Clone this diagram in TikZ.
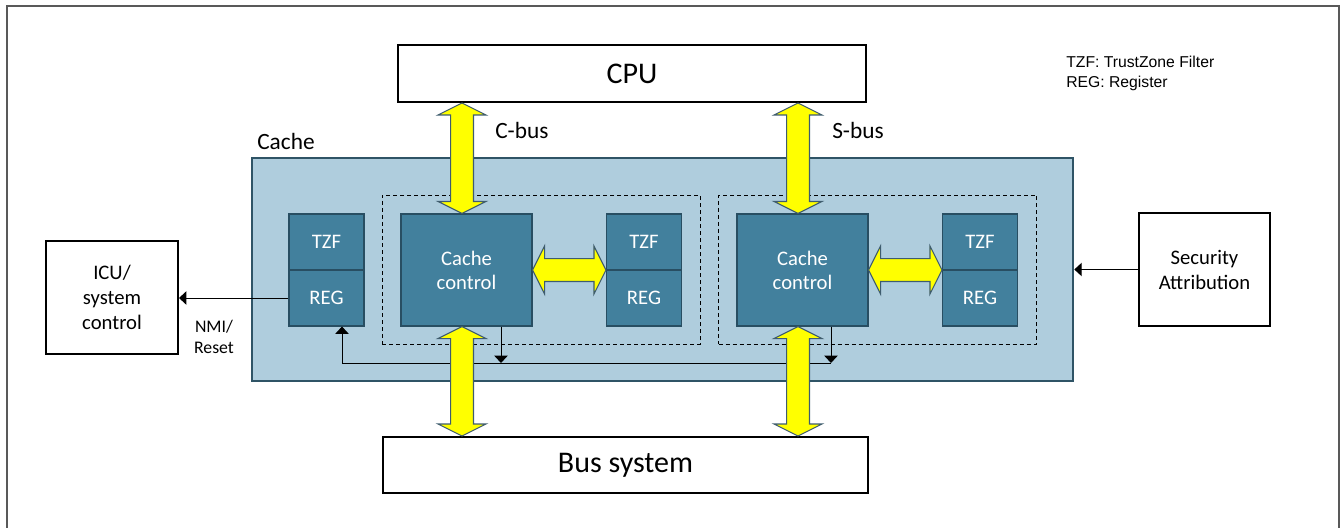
\documentclass[tikz,border=0pt]{standalone}
\usepackage{fontspec}
\setmainfont{Carlito}
\newfontfamily\legendfont{Liberation Sans}
\usetikzlibrary{arrows.meta,calc}
\definecolor{frameGr}{RGB}{89,89,89}
\definecolor{cacheBg}{RGB}{175,205,221}
\definecolor{cacheEd}{RGB}{47,84,102}
\definecolor{blkFill}{RGB}{66,128,157}
\definecolor{blkEd}{RGB}{40,78,98}
\definecolor{busYel}{RGB}{255,255,0}
\definecolor{busEd}{RGB}{62,92,110}

% fat double-headed bus arrow between two points
\newcommand\ybus[2]{%
  \path (#1) coordinate (ya) (#2) coordinate (yb);
  \path ($(ya)!9pt!(yb)$) coordinate (yah) ($(yb)!9pt!(ya)$) coordinate (ybh);
  \draw[fatbus] (ya) -- ($(yah)!18pt!90:(yb)$) -- ($(yah)!8.6pt!90:(yb)$)
    -- ($(ybh)!8.6pt!-90:(ya)$) -- ($(ybh)!18pt!-90:(ya)$) -- (yb)
    -- ($(ybh)!18pt!90:(ya)$) -- ($(ybh)!8.6pt!90:(ya)$)
    -- ($(yah)!8.6pt!-90:(yb)$) -- ($(yah)!18pt!-90:(yb)$) -- cycle;}

\begin{document}
\begin{tikzpicture}[x=0.75pt,y=-0.75pt]
  \tikzset{box/.style={draw=black,line width=1.5pt,fill=white,align=center,inner sep=0pt},
    blk/.style={draw=blkEd,line width=0.8pt,fill=blkFill,text=white,align=center,inner sep=0pt,font=\fontsize{15.5}{18}\selectfont},
    grp/.style={draw=black,line width=0.75pt,dash pattern=on 3pt off 2.25pt,minimum width=238.5pt,minimum height=111.75pt},
    sig/.style={draw=black,line width=0.75pt,-{Triangle[width=10pt,length=5.5pt]}},
    fatbus/.style={fill=busYel,draw=busEd,line width=0.8pt,line join=miter},
    lbl/.style={font=\fontsize{17.5}{21}\selectfont,anchor=west,inner sep=0pt}}
  \useasboundingbox (0,0) rectangle (1340,528);
  % outer frame, open at the bottom
  \draw[frameGr,line width=1.5pt] (7,528) -- (7,6) -- (1339,6) -- (1339,528);
  % cache with its two bus groups
  \node[draw=cacheEd,line width=2pt,fill=cacheBg,minimum width=615.75pt,minimum height=167.25pt] (cache) at (662.5,269.5) {};
  \node[lbl] (cachelbl) at (257,141) {Cache};
  \node[grp] (grpc) at (541,269.5) {};
  \node[grp] (grps) at (877.5,269.5) {};
  \node[blk,minimum width=98.25pt,minimum height=84pt] (ccc) at (466.5,270) {Cache\\control};
  \node[blk,minimum width=98.25pt,minimum height=84pt] (ccs) at (802.5,270) {Cache\\control};
  \foreach \nm/\x in {m/326.5,c/644,s/980}{
    \node[blk,minimum width=56.25pt,minimum height=42pt] (tzf\nm) at (\x,242) {TZF};
    \node[blk,minimum width=56.25pt,minimum height=42pt] (reg\nm) at (\x,298) {REG};
  }
  % blocks outside the cache
  \node[box,minimum width=351pt,minimum height=42.75pt,font=\fontsize{22.5}{27}\selectfont] (cpu) at (632,73.5) {CPU};
  \node[box,minimum width=363.75pt,minimum height=42pt,font=\fontsize{22.5}{27}\selectfont] (bus) at (625.5,465) {Bus system};
  \node[box,minimum width=99pt,minimum height=84.75pt,font=\fontsize{15.5}{18.75}\selectfont] (icu) at (112,297.5) {ICU/\\system\\control};
  \node[box,minimum width=98.25pt,minimum height=84.75pt,font=\fontsize{15.5}{18.75}\selectfont] (sec) at (1204.5,269.5) {Security\\Attribution};
  % labels
  \node[lbl] (cbuslbl) at (495,130) {C-bus};
  \node[lbl] (sbuslbl) at (832,130) {S-bus};
  \node[align=center,inner sep=0pt,font=\fontsize{13.3}{15.75}\selectfont] (nmi) at (214,336.5) {NMI/\\Reset};
  \node[anchor=west,align=left,inner sep=0pt,font=\legendfont\fontsize{11.8}{15}\selectfont] (legend) at (1066,73) {TZF: TrustZone Filter\\REG: Register};
  % control lines
  \coordinate (cbus) at (462,130);
  \coordinate (sbus) at (798,130);
  \coordinate (tapm) at (342,363);
  \coordinate (tapc) at (501,363);
  \coordinate (taps) at (831,363);
  \draw[sig] (ccc.south -| tapc) -- (tapc);
  \draw[sig] (ccs.south -| taps) -- (taps);
  \draw[sig] (taps) -- (tapm) -- (regm.south -| tapm);
  \draw[sig] (regm.west) -- (icu.east |- regm.west);
  \draw[sig] (sec.west) -- (cache.east |- sec.west);
  % buses
  \ybus{cpu.south -| cbus}{ccc.north -| cbus}
  \ybus{ccc.south -| cbus}{bus.north -| cbus}
  \ybus{cpu.south -| sbus}{ccs.north -| sbus}
  \ybus{ccs.south -| sbus}{bus.north -| sbus}
  \ybus{ccc.east}{ccc.east -| tzfc.west}
  \ybus{ccs.east}{ccs.east -| tzfs.west}
\end{tikzpicture}
\end{document}
